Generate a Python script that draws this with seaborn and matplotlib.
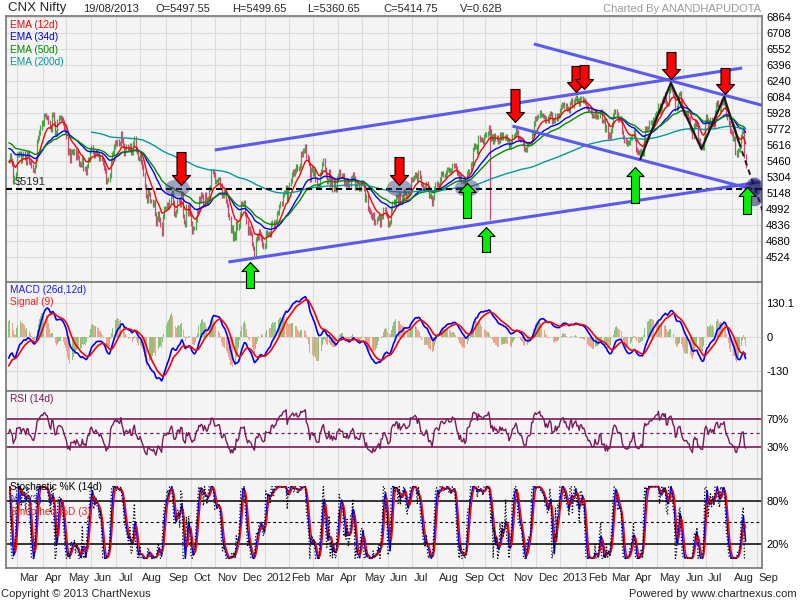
import numpy as np
import pandas as pd
import matplotlib
matplotlib.use("Agg")
import matplotlib.pyplot as plt
import seaborn as sns
from matplotlib.path import Path
from matplotlib.patches import Ellipse

# daily closes of CNX Nifty (one row per month)
close_2011 = [
    5458, 5518, 5469, 5437, 5262, 5303, 5333,
    5522, 5522, 5536, 5538, 5463, 5520, 5531, 5494, 5445, 5531, 5540, 5449, 5446, 5413, 5373, 5364, 5413, 5480, 5654, 5687, 5737, 5787, 5833,
    5826, 5908, 5910, 5891, 5885, 5842, 5792, 5761, 5911, 5911, 5824, 5730, 5740, 5851, 5884, 5884, 5874, 5868, 5833, 5785, 5749,
    5701, 5537, 5565, 5459, 5552, 5552, 5541, 5565, 5487, 5544, 5499, 5438, 5420, 5428, 5486, 5386, 5394, 5348, 5412, 5476, 5473, 5560,
    5592, 5550, 5516, 5532, 5556, 5526, 5521, 5486, 5508, 5482, 5447, 5396, 5366, 5257, 5275, 5278, 5320, 5471, 5526, 5545, 5600, 5647,
    5627, 5651, 5632, 5625, 5728, 5660, 5616, 5526, 5585, 5599, 5581, 5567, 5613, 5541, 5541, 5633, 5680, 5574, 5547, 5487, 5482,
    5516, 5456, 5404, 5331, 5211, 5119, 5073, 5162, 5138, 5072, 5072, 5036, 5056, 4945, 4845, 4899, 4948, 4889, 4839, 4747, 4919, 5002, 5002,
    5002, 5040, 5017, 5064, 5125, 5153, 5059, 4947, 4940, 4974, 5075, 5084, 5031, 5140, 5133, 4923, 4867, 4835, 5017, 4946, 5015, 4943,
    4849, 4772, 4806, 4806, 4888, 4979, 4975, 5099, 5077, 5132, 5118, 5037, 5139, 5091, 5049, 5098, 5191, 5201, 5360, 5361, 5326,
    5258, 5265, 5266, 5284, 5284, 5221, 5125, 5125, 5168, 5148, 5068, 5030, 4934, 4905, 4778, 4812, 4706, 4756, 4710, 4851, 4805, 4832,
    4936, 5050, 5039, 5039, 5062, 4943, 4866, 4764, 4800, 4763, 4746, 4651, 4613, 4544, 4694, 4733, 4714, 4779, 4750, 4705, 4646, 4624,
]
close_2012 = [
    4636, 4765, 4749, 4749, 4754, 4742, 4849, 4861, 4831, 4866, 4873, 4955, 4956, 5019, 5049, 5046, 5127, 5158, 5158, 5204, 5087, 5199,
    5236, 5270, 5326, 5362, 5335, 5368, 5413, 5381, 5390, 5417, 5532, 5522, 5564, 5564, 5607, 5505, 5483, 5430, 5281, 5375, 5385,
    5340, 5359, 5280, 5222, 5220, 5220, 5333, 5359, 5429, 5463, 5380, 5318, 5257, 5274, 5364, 5228, 5278, 5184, 5243, 5194, 5178, 5296,
    5318, 5358, 5322, 5322, 5322, 5235, 5243, 5226, 5276, 5207, 5226, 5289, 5300, 5332, 5290, 5200, 5222, 5202, 5189, 5190, 5248,
    5248, 5239, 5188, 5087, 5114, 4999, 4975, 4965, 4929, 4907, 4942, 4858, 4870, 4892, 4907, 4920, 4835, 4921, 4921, 4985, 4990, 4950, 4924,
    4842, 4848, 4864, 4997, 5050, 5069, 5054, 5116, 5121, 5055, 5139, 5064, 5103, 5121, 5165, 5147, 5115, 5121, 5141, 5150, 5279,
    5278, 5287, 5303, 5327, 5317, 5275, 5346, 5306, 5235, 5227, 5197, 5192, 5216, 5243, 5205, 5117, 5128, 5109, 5043, 5100, 5199, 5229,
    5240, 5228, 5215, 5282, 5337, 5338, 5323, 5320, 5347, 5380, 5380, 5363, 5366, 5366, 5421, 5413, 5415, 5387, 5350, 5334, 5287, 5315, 5259,
    5254, 5275, 5225, 5238, 5342, 5359, 5363, 5431, 5436, 5578, 5610, 5600, 5600, 5554, 5691, 5669, 5673, 5663, 5650, 5703,
    5718, 5718, 5731, 5787, 5747, 5676, 5705, 5652, 5708, 5676, 5688, 5648, 5660, 5718, 5684, 5717, 5691, 5691, 5705, 5665, 5665, 5598, 5620,
    5645, 5697, 5704, 5724, 5760, 5738, 5686, 5683, 5666, 5666, 5631, 5575, 5571, 5571, 5614, 5627, 5627, 5635, 5728, 5728, 5825, 5880,
    5870, 5889, 5900, 5931, 5907, 5908, 5898, 5888, 5851, 5879, 5857, 5896, 5929, 5916, 5847, 5855, 5855, 5905, 5870, 5908, 5905,
]
close_2013 = [
    5950, 5993, 6009, 6016, 5988, 6001, 5971, 5968, 5951, 6024, 6056, 6001, 6039, 6064, 6082, 6048, 6054, 6019, 6074, 6074, 6049, 6055, 6034,
    5998, 5987, 5956, 5959, 5938, 5903, 5897, 5898, 5932, 5896, 5887, 5898, 5939, 5943, 5852, 5850, 5856, 5761, 5797, 5693,
    5719, 5699, 5759, 5818, 5903, 5946, 5942, 5914, 5863, 5873, 5872, 5852, 5745, 5694, 5658, 5651, 5633, 5641, 5641, 5682, 5682,
    5705, 5749, 5673, 5574, 5553, 5542, 5541, 5558, 5568, 5528, 5688, 5783, 5760, 5784, 5784, 5834, 5836, 5836, 5871, 5871, 5904, 5930,
    5930, 5999, 5944, 5972, 6043, 6070, 6050, 6108, 6019, 6018, 6146, 6170, 6188, 6157, 6114, 6095, 5967, 5984, 6084, 6111, 6124, 6050, 5985,
    5939, 5919, 5923, 5921, 5881, 5878, 5789, 5760, 5699, 5808, 5850, 5814, 5822, 5655, 5667, 5609, 5590, 5588, 5682, 5842,
    5898, 5857, 5770, 5836, 5867, 5811, 5859, 5816, 5935, 6009, 6030, 5955, 5955, 6038, 6029, 6031, 6077, 5990, 5907, 5886, 5831, 5756, 5742,
    5728, 5678, 5685, 5542, 5519, 5566, 5566, 5612, 5699, 5742, 5742, 5508, 5415,
]

# intraday spike (flash crash)
spike_dates = ["2012-10-05"]
spike_lows = [4888]

# values of the averages on the first day (warm-up)
ema_spans = [12, 34, 50, 200]
ema_seeds = [5450, 5590, 5645, 5900]
ema26_seed = 5538
signal_seed = -118
rsi_seed = 30

support = 5191

# hand drawn annotations (date, price)
trend_start_dates = ["2011-11-01", "2011-11-17", "2012-11-29", "2012-11-02"]
trend_start_prices = [5567, 4475, 6601, 5801]
trend_end_dates = ["2013-08-14", "2013-09-05", "2013-09-11", "2013-08-26"]
trend_end_prices = [6367, 5255, 5996, 5187]

zigzag_dates = ["2013-04-10", "2013-05-17", "2013-06-25", "2013-07-23", "2013-08-09"]
zigzag_prices = [5480, 6221, 5577, 6084, 5645]
projection_dates = ["2013-08-09", "2013-09-11"]
projection_prices = [5645, 4914]

down_arrow_dates = ["2011-09-20", "2012-06-15", "2012-11-06", "2013-01-21", "2013-01-30", "2013-05-17", "2013-07-24"]
down_arrow_prices = [5230, 5226, 5840, 6133, 6162, 6260, 6113]
down_arrow_len = [33, 28, 33, 26, 24, 27, 26]
up_arrow_dates = ["2011-12-14", "2012-09-07", "2012-10-02", "2013-04-03", "2013-08-20"]
up_arrow_prices = [4475, 5246, 4817, 5401, 5206]
up_arrow_len = [26, 35, 25, 36, 27]

zone_dates = ["2011-09-15", "2012-06-15", "2012-09-07"]
zone_prices = [5197, 5197, 5197]
target_date = "2013-08-29"
target_price = 5158

sns.set_style("white")
plt.rcParams["font.family"] = ["Liberation Sans", "DejaVu Sans"]

close = np.array(close_2011 + close_2012 + close_2013, dtype=float)
x = np.arange(len(close))
days = pd.bdate_range("2011-02-18", "2013-09-30")


def pos(d):
    return int(days.searchsorted(pd.Timestamp(d)))


def ema(values, span, seed):
    s = pd.Series(np.r_[seed, values])
    return s.ewm(span=span, adjust=False).mean().to_numpy()[1:]


emas = [ema(close, s, v) for s, v in zip(ema_spans, ema_seeds)]
macd = emas[0] - ema(close, 26, ema26_seed)
signal = ema(macd, 9, signal_seed)
hist = macd - signal

diff = np.diff(close, prepend=close[0])
gain = ema(np.clip(diff, 0, None), 20, rsi_seed)
loss = ema(np.clip(-diff, 0, None), 20, rsi_seed)
rsi = 100 - 100 / (1 + gain / loss)

cs = pd.Series(close)
lo14 = cs.rolling(14, min_periods=1).min()
hi14 = cs.rolling(14, min_periods=1).max()
stoch_k = (100 * (cs - lo14) / (hi14 - lo14)).to_numpy()
stoch_d = pd.Series(stoch_k).rolling(3, min_periods=1).mean()
stoch_sd = stoch_d.rolling(3, min_periods=1).mean().to_numpy()
stoch_d = stoch_d.to_numpy()

months = pd.date_range("2011-03-01", "2013-09-01", freq="MS")
tick_pos = [pos(m) for m in months]
tick_lab = [str(m.year) if m.month == 1 else m.strftime("%b") for m in months]

i0, i1 = pos("2011-03-01"), pos("2013-08-01")
px = (732 - 16.7) / (i1 - i0)
xlim = (i0 - (16.7 - 6) / px, i0 + (762 - 16.7) / px)

fig = plt.figure(figsize=(8, 6), dpi=100)
fig.patch.set_facecolor("white")


def panel(top, bottom, ylim):
    ax = fig.add_axes([6 / 800, 1 - bottom / 600, 756 / 800, (bottom - top) / 600])
    ax.set_facecolor("#f4f4f4")
    ax.set_xlim(*xlim)
    ax.set_ylim(*ylim)
    ax.set_xticks(tick_pos)
    ax.set_xticklabels([])
    ax.tick_params(axis="x", length=0)
    ax.grid(axis="x", color="#dcdcdc", lw=0.8)
    ax.set_axisbelow(True)
    ax.yaxis.tick_right()
    ax.tick_params(axis="y", length=0, pad=3, labelsize=8, labelcolor="black")
    for sp in ax.spines.values():
        sp.set_color("#808080")
        sp.set_linewidth(1.3)
    return ax


ax_p = panel(16, 282, (4280, 6874))
ax_m = panel(282, 391, (-206.5, 210.3))
ax_r = panel(391, 479, (-15.7, 110))
ax_s = panel(479, 568, (-13.5, 110.7))
ax_p.set_zorder(3)

# ---- price panel
ax_p.set_yticks([4524 + 156 * k for k in range(16)])
ax_p.grid(axis="y", color="#dcdcdc", lw=0.8)

open_ = np.r_[close[0], close[:-1]]
wick = 22
high = np.maximum(open_, close) + wick
low = np.minimum(open_, close) - wick
for d, v in zip(spike_dates, spike_lows):
    low[pos(d)] = v
candle_col = np.where(close >= open_, "#45a845", "#cc4a72")
ax_p.vlines(x, low, high, colors=candle_col, lw=0.9, zorder=2)

ema_cols = ["#ff0000", "#0000ff", "#008c00", "#009c9c"]
start200 = pos("2011-06-01")
for vals, col, span in zip(emas, ema_cols, ema_spans):
    first = start200 if span == 200 else 0
    sns.lineplot(x=x[first:], y=vals[first:], ax=ax_p, color=col, lw=1.0,
                 estimator=None, sort=False, zorder=3)

ax_p.axhline(support, color="black", lw=1.5, ls=(0, (2.9, 1.9)), zorder=4)
fig.text(15 / 800, 1 - 182 / 600, "\\$5191", fontsize=8, va="center")

for d0, p0, d1, p1 in zip(trend_start_dates, trend_start_prices, trend_end_dates, trend_end_prices):
    ax_p.plot([pos(d0), pos(d1)], [p0, p1], color="#5a5af0", lw=2.2, zorder=4,
              solid_capstyle="butt")

ax_p.plot([pos(d) for d in zigzag_dates], zigzag_prices, color="#1a1a1a", lw=1.6, zorder=5)
ax_p.plot([pos(d) for d in projection_dates], projection_prices, color="#1a1a1a", lw=1.4,
          ls=(0, (2.8, 2.2)), zorder=5)

for d, p in zip(zone_dates, zone_prices):
    ax_p.add_patch(Ellipse((pos(d), p), 22, 170, color="#3c3c82", alpha=0.45, lw=0, zorder=5.5))
ax_p.add_patch(Ellipse((pos(target_date), target_price), 18, 280, color="#1c1c6c", alpha=0.55,
                       lw=0, zorder=5.5))
ax_p.add_patch(Ellipse((pos(target_date), target_price + 40), 11, 170, color="#10105a", alpha=0.5,
                       lw=0, zorder=5.6))


def arrow_path(length, down, head_w, head_h, body_w):
    s = 1 if down else -1
    v = [(0, 0), (-head_w / 2, s * head_h), (-body_w / 2, s * head_h), (-body_w / 2, s * length),
         (body_w / 2, s * length), (body_w / 2, s * head_h), (head_w / 2, s * head_h), (0, 0)]
    return Path(v, [Path.MOVETO] + [Path.LINETO] * 6 + [Path.CLOSEPOLY])


for d, p, ln in zip(down_arrow_dates, down_arrow_prices, down_arrow_len):
    ax_p.plot(pos(d), p, ls="none", marker=arrow_path(ln, True, 18, 10, 9), markersize=1.44 * ln,
              color="#ff0000", mec="black", mew=0.8, zorder=7, clip_on=False)
for d, p, ln in zip(up_arrow_dates, up_arrow_prices, up_arrow_len):
    ax_p.plot(pos(d), p, ls="none", marker=arrow_path(ln, False, 17, 9, 8), markersize=1.44 * ln,
              color="#00ee00", mec="black", mew=0.8, zorder=7, clip_on=False)

legend_txt = ["EMA (12d)", "EMA (34d)", "EMA (50d)", "EMA (200d)"]
for i, (t, col) in enumerate(zip(legend_txt, ema_cols)):
    fig.text(10 / 800, 1 - (25 + 12.3 * i) / 600, t, color=col, fontsize=7.3, va="center")

# ---- MACD panel
ax_m.set_yticks([-130, 0, 130.1])
ax_m.set_yticklabels(["-130", "0", "130.1"])
ax_m.grid(axis="y", color="#dcdcdc", lw=0.8)
hist_scale = 2
rising = np.r_[True, hist[1:] >= hist[:-1]]
ax_m.bar(x, hist * hist_scale, width=0.8, color=np.where(rising, "#8cc47a", "#eaa68e"), lw=0, zorder=2)
sns.lineplot(x=x, y=macd, ax=ax_m, color="#0000ff", lw=1.2, estimator=None, sort=False, zorder=3)
sns.lineplot(x=x, y=signal, ax=ax_m, color="#ff0000", lw=1.2, estimator=None, sort=False, zorder=3)
fig.text(10 / 800, 1 - 290 / 600, "MACD (26d,12d)", color="#1a1aff", fontsize=7.3, va="center")
fig.text(10 / 800, 1 - 301.7 / 600, "Signal (9)", color="#ff1a1a", fontsize=7.3, va="center")

# ---- RSI panel
rsi_col = "#7a1a5a"
ax_r.set_yticks([30, 70])
ax_r.set_yticklabels(["30%", "70%"])
for lvl in (30, 70):
    ax_r.axhline(lvl, color=rsi_col, lw=1.2, zorder=2)
ax_r.axhline(50, color=rsi_col, lw=0.9, ls=(0, (2.5, 2.5)), zorder=2)
sns.lineplot(x=x, y=rsi, ax=ax_r, color=rsi_col, lw=1.0, estimator=None, sort=False, zorder=3)
fig.text(10 / 800, 1 - 399.3 / 600, "RSI (14d)", color=rsi_col, fontsize=7.3, va="center")

# ---- Stochastic panel
ax_s.set_yticks([20, 80])
ax_s.set_yticklabels(["20%", "80%"])
for lvl in (20, 80):
    ax_s.axhline(lvl, color="black", lw=1.1, zorder=2)
ax_s.axhline(50, color="black", lw=0.8, ls=(0, (2.5, 2.5)), zorder=2)
sns.lineplot(x=x, y=stoch_d, ax=ax_s, color="#0000ff", lw=1.1, estimator=None, sort=False, zorder=3)
sns.lineplot(x=x, y=stoch_sd, ax=ax_s, color="#ff0000", lw=1.1, estimator=None, sort=False, zorder=3)
sns.lineplot(x=x, y=stoch_k, ax=ax_s, color="black", lw=0.9, ls=(0, (1, 1.6)), estimator=None,
             sort=False, zorder=4)
fig.text(10 / 800, 1 - 487.3 / 600, "Stochastic %K (14d)", color="black", fontsize=7.3, va="center")
fig.text(10 / 800, 1 - 500 / 600, "%D (3)", color="#1a1aff", fontsize=7.3, va="center")
fig.text(10 / 800, 1 - 512.3 / 600, "Smoothed %D (3)", color="#ff1a1a", fontsize=7.3, va="center")

ax_s.tick_params(axis="x", length=11, width=0.8, color="black", direction="out")
for p, lab in zip(tick_pos, tick_lab):
    ax_s.annotate(lab, xy=(p, 0), xycoords=("data", "axes fraction"), xytext=(1.5, -7.3),
                  textcoords="offset points", ha="left", va="center", fontsize=8)

# ---- header / footer
header = [("CNX Nifty", 8, 9.5), ("19/08/2013", 83, 8), ("O=5497.55", 156, 8),
          ("H=5499.65", 232, 8), ("L=5360.65", 307, 8), ("C=5414.75", 383, 8), ("V=0.62B", 460, 8)]
for t, xx, fs in header:
    fig.text(xx / 800, 1 - 8.5 / 600, t, fontsize=fs, va="center", ha="left")
fig.text(761 / 800, 1 - 8.5 / 600, "Charted By ANANDHAPUDOTA", fontsize=8, color="#9a9a9a",
         va="center", ha="right")
fig.text(1 / 800, 1 - 594 / 600, "Copyright \u00a9 2013 ChartNexus", fontsize=8, va="center")
fig.text(797 / 800, 1 - 594 / 600, "Powered by www.chartnexus.com", fontsize=8, va="center", ha="right")

fig.savefig("out.png", dpi=100)
